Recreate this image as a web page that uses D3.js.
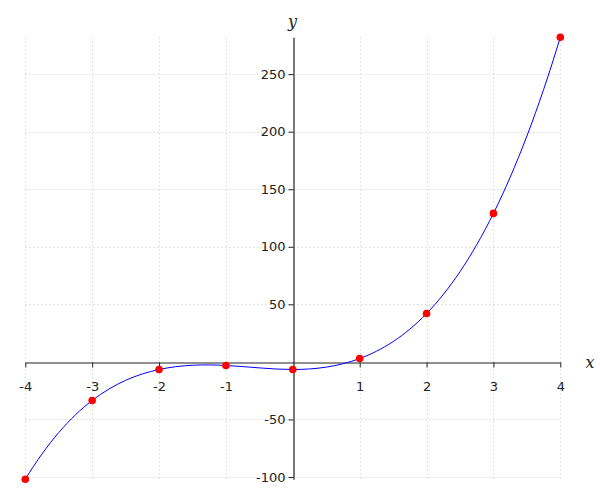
<!DOCTYPE html>
<html>
<head>
<meta charset="utf-8">
<script src="https://cdn.jsdelivr.net/npm/d3@7"></script>
<style>
body { margin: 0; background: #fff; }
svg { display: block; }
</style>
</head>
<body>
<svg id="chart" width="600" height="500"></svg>
<script>
const xValues = [-4, -3, -2, -1, 0, 1, 2, 3, 4];
const yValues = [-102, -33.5, -6.6, -3.1, -6.6, 2.9, 42, 129, 282];
const xTicks = [-4, -3, -2, -1, 1, 2, 3, 4];
const yTicks = [-100, -50, 50, 100, 150, 200, 250];
const xGrid = [-4, -3, -2, -1, 1, 2, 3, 4];
const yGrid = [-100, -50, 50, 100, 150, 200, 250];

const svg = d3.select("#chart");
const x = d3.scaleLinear().domain([-4, 4]).range([25.3, 560.3]);
const y = d3.scaleLinear().domain(d3.extent(yValues)).range([479.3, 37.3]);
const pts = xValues.map((v, i) => ({x: v, y: yValues[i]}));

const [y0, y1] = y.range();
const [x0, x1] = x.range();

// grid
const grid = svg.append("g").attr("stroke", "#c8c8c8").attr("stroke-width", 1).attr("stroke-dasharray", "1,3");
grid.selectAll("line.v").data(xGrid).join("line")
  .attr("x1", d => Math.round(x(d)) + 0.5).attr("x2", d => Math.round(x(d)) + 0.5)
  .attr("y1", y1).attr("y2", y0 + 1);
grid.selectAll("line.h").data(yGrid).join("line")
  .attr("y1", d => Math.round(y(d)) + 0.5).attr("y2", d => Math.round(y(d)) + 0.5)
  .attr("x1", x0).attr("x2", x1);

// axes
const font = "DejaVu Sans, sans-serif";
const xAxis = svg.append("g")
  .attr("transform", `translate(0,${Math.round(y(0)) + 0.5})`)
  .call(d3.axisBottom(x).tickValues(xTicks).tickFormat(d => String(d)).tickSize(5).tickSizeOuter(0).tickPadding(14));
xAxis.select(".domain").attr("stroke", "#222").attr("stroke-width", 1.2);
xAxis.selectAll(".tick line").attr("stroke", "#222");
xAxis.selectAll("text").attr("font-family", font).attr("font-size", 13).attr("fill", "#222");

const yAxis = svg.append("g")
  .attr("transform", `translate(${Math.round(x(0)) + 0.5},0)`)
  .call(d3.axisLeft(y).tickValues(yTicks).tickFormat(d => String(d)).tickSize(5).tickSizeOuter(0).tickPadding(3));
yAxis.select(".domain").attr("stroke", "#222").attr("stroke-width", 1.2);
yAxis.selectAll(".tick line").attr("stroke", "#222");
yAxis.selectAll("text").attr("font-family", font).attr("font-size", 13).attr("fill", "#222");

// axis labels
svg.append("text").attr("x", 590).attr("y", 368).attr("text-anchor", "middle")
  .attr("font-family", "DejaVu Serif, serif").attr("font-style", "italic").attr("font-size", 16).attr("fill", "#222").text("x");
svg.append("text").attr("x", 292.5).attr("y", 27).attr("text-anchor", "middle")
  .attr("font-family", "DejaVu Serif, serif").attr("font-style", "italic").attr("font-size", 16).attr("fill", "#222").text("y");

// clamped cubic spline through the points (end slopes from local cubic fit)
function splinePath(p) {
  const n = p.length - 1;
  const h = p.map((d, i) => i < n ? p[i + 1].x - d.x : 0);
  const Y = p.map(d => d.y);
  // end slopes (equal spacing assumed for local estimate)
  const s0 = (-11 * Y[0] + 18 * Y[1] - 9 * Y[2] + 2 * Y[3]) / (6 * h[0]);
  const sn = (11 * Y[n] - 18 * Y[n - 1] + 9 * Y[n - 2] - 2 * Y[n - 3]) / (6 * h[n - 1]);
  const a = [], b = [], c = [], r = [];
  a[0] = 0; b[0] = 2 * h[0]; c[0] = h[0]; r[0] = 6 * ((Y[1] - Y[0]) / h[0] - s0);
  for (let i = 1; i < n; i++) {
    a[i] = h[i - 1]; b[i] = 2 * (h[i - 1] + h[i]); c[i] = h[i];
    r[i] = 6 * ((Y[i + 1] - Y[i]) / h[i] - (Y[i] - Y[i - 1]) / h[i - 1]);
  }
  a[n] = h[n - 1]; b[n] = 2 * h[n - 1]; c[n] = 0; r[n] = 6 * (sn - (Y[n] - Y[n - 1]) / h[n - 1]);
  // Thomas algorithm
  for (let i = 1; i <= n; i++) {
    const m = a[i] / b[i - 1];
    b[i] -= m * c[i - 1];
    r[i] -= m * r[i - 1];
  }
  const M = new Array(n + 1);
  M[n] = r[n] / b[n];
  for (let i = n - 1; i >= 0; i--) M[i] = (r[i] - c[i] * M[i + 1]) / b[i];
  const path = d3.path();
  path.moveTo(x(p[0].x), y(p[0].y));
  for (let i = 0; i < n; i++) {
    const hi = h[i];
    const slope = (Y[i + 1] - Y[i]) / hi;
    const d0 = slope - hi * (2 * M[i] + M[i + 1]) / 6;
    const d1 = slope + hi * (M[i] + 2 * M[i + 1]) / 6;
    path.bezierCurveTo(
      x(p[i].x + hi / 3), y(Y[i] + d0 * hi / 3),
      x(p[i + 1].x - hi / 3), y(Y[i + 1] - d1 * hi / 3),
      x(p[i + 1].x), y(Y[i + 1]));
  }
  return path.toString();
}

svg.append("path").attr("d", splinePath(pts))
  .attr("fill", "none").attr("stroke", "#0000ff").attr("stroke-width", 1);

// points
svg.append("g").selectAll("circle").data(pts).join("circle")
  .attr("cx", d => x(d.x)).attr("cy", d => y(d.y)).attr("r", 3.8).attr("fill", "#ff0000");
</script>
</body>
</html>
